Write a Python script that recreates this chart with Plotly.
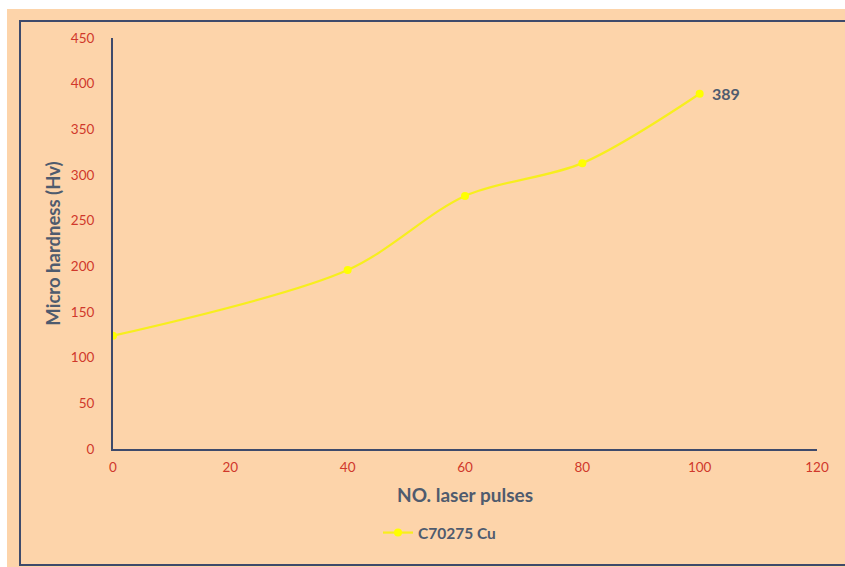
import plotly.graph_objects as go

# Micro hardness of C70275 Cu against number of laser pulses
pulses = [0, 40, 60, 80, 100]
hardness = [124, 196, 277, 313, 389]
series_name = "C70275 Cu"
x_ticks = [0, 20, 40, 60, 80, 100, 120]
y_ticks = [0, 50, 100, 150, 200, 250, 300, 350, 400, 450]

W, H = 845, 567
L, R, T, B = 113, 28, 38, 118
pw, ph = W - L - R, H - T - B

def px(x):
    return (x - L) / pw

def py(y):
    return (H - B - y) / ph

peach = "#FDD4AA"
navy = "#3E4A6B"
tick_red = "#D0382B"
title_grey = "#4F5B6E"

fig = go.Figure()
fig.add_trace(go.Scatter(
    x=pulses, y=hardness, name=f"<b>{series_name}</b>",
    mode="lines+markers",
    line=dict(color="#F7EE1E", width=2.2, shape="spline", smoothing=0.9),
    marker=dict(color="#FFFF00", size=8),
))

# value label on the last point
fig.add_annotation(
    x=pulses[-1], y=hardness[-1], text=f"<b>{hardness[-1]}</b>",
    showarrow=False, xanchor="left", yanchor="middle", xshift=10,
    font=dict(family="Lato", size=16, color=title_grey),
)

fig.update_layout(
    width=W, height=H,
    margin=dict(l=L, r=R, t=T, b=B),
    paper_bgcolor=peach, plot_bgcolor=peach,
    showlegend=True,
    legend=dict(
        orientation="h", x=px(378), y=py(533), xanchor="left", yanchor="middle",
        bgcolor="rgba(0,0,0,0)",
        font=dict(family="Lato", size=15.5, color=title_grey),
    ),
    xaxis=dict(
        range=[0, 120], tickvals=x_ticks, showgrid=False, zeroline=False,
        showline=True, linecolor=navy, linewidth=2,
        tickfont=dict(family="Lato", size=13.5, color=tick_red),
        ticks="", ticklabelstandoff=5,
        title=dict(text="<b>NO. laser pulses</b>", standoff=14,
                   font=dict(family="Lato", size=19, color=title_grey)),
    ),
    yaxis=dict(
        range=[0, 450], tickvals=y_ticks, showgrid=False, zeroline=False,
        showline=True, linecolor=navy, linewidth=2,
        tickfont=dict(family="Lato", size=13.5, color=tick_red),
        ticks="", ticklabelstandoff=14,
        title=dict(text="<b>Micro hardness (Hv)</b>", standoff=5,
                   font=dict(family="Lato", size=18.5, color=title_grey)),
    ),
    shapes=[
        # white strips outside the chart panel
        dict(type="rect", xref="paper", yref="paper", x0=px(-5), x1=px(7),
             y0=py(-5), y1=py(H + 5), fillcolor="white", line=dict(width=0), layer="above"),
        dict(type="rect", xref="paper", yref="paper", x0=px(-5), x1=px(W + 5),
             y0=py(-5), y1=py(9), fillcolor="white", line=dict(width=0), layer="above"),
        # frame around the chart
        dict(type="rect", xref="paper", yref="paper", x0=px(20), x1=px(W + 10),
             y0=py(565), y1=py(21), fillcolor="rgba(0,0,0,0)",
             line=dict(color=navy, width=2), layer="above"),
    ],
)

fig.write_html("out.html")
